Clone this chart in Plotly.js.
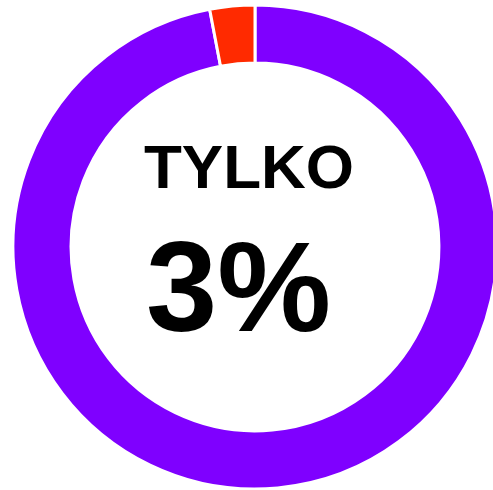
<!DOCTYPE html>
<html>
<head>
<meta charset="utf-8">
<script src="https://cdn.plot.ly/plotly-3.0.1.min.js"></script>
<style>
html,body{margin:0;padding:0;overflow:hidden;background:#fff;}
#chart{width:510px;height:490px;}
</style>
</head>
<body>
<div id="chart"></div>
<script>
const labels = ["Pozostali", "Tylko"];
const values = [97, 3];
const colors = ["#7f00ff", "#ff2a00"];
const headline = "TYLKO";
const valueLabel = "3%";

const data = [{
  type: "pie",
  labels: labels,
  values: values,
  hole: 0.76,
  sort: false,
  direction: "clockwise",
  rotation: 0,
  textinfo: "none",
  hoverinfo: "none",
  marker: {colors: colors, line: {color: "#ffffff", width: 3}},
  showlegend: false
}];

const layout = {
  width: 510,
  height: 490,
  margin: {l: 13, r: 13, t: 5, b: 1, pad: 0},
  paper_bgcolor: "#ffffff",
  plot_bgcolor: "#ffffff",
  showlegend: false,
  annotations: [
    {text: headline, x: 0.4866, y: 0.6663, xref: "paper", yref: "paper", xanchor: "center", yanchor: "middle", showarrow: false,
     font: {family: "Liberation Sans, Arial, sans-serif", size: 62, color: "#000000", weight: "bold"}},
    {text: valueLabel, x: 0.4659, y: 0.4184, xref: "paper", yref: "paper", xanchor: "center", yanchor: "middle", showarrow: false,
     font: {family: "Liberation Sans, Arial, sans-serif", size: 128, color: "#000000", weight: "bold"}}
  ]
};

Plotly.newPlot("chart", data, layout, {displayModeBar: false, staticPlot: true});
</script>
</body>
</html>
